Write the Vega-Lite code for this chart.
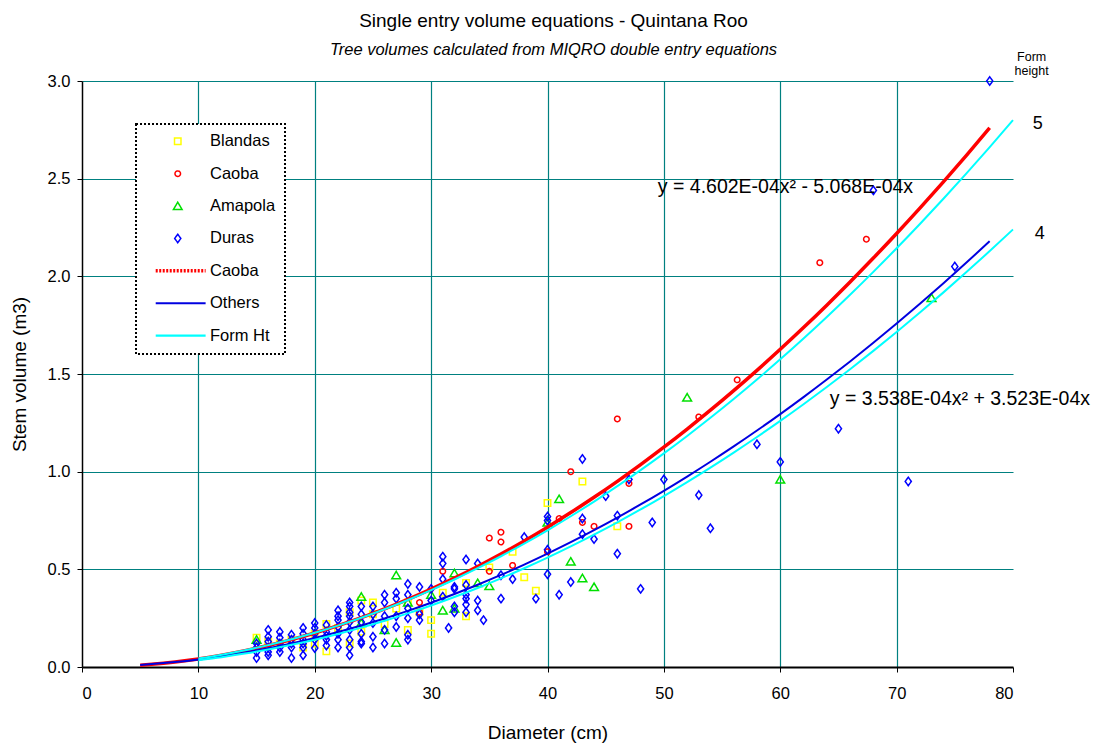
{
  "$schema": "https://vega.github.io/schema/vega-lite/v6.json",
  "width": 931,
  "height": 586,
  "autosize": {"type": "none"},
  "padding": {"left": 82, "top": 81, "right": 92, "bottom": 79},
  "background": "white",
  "config": {
    "font": "Liberation Sans",
    "view": {"stroke": null},
    "axis": {
      "domainColor": "black",
      "domainWidth": 1.5,
      "tickColor": "black",
      "tickSize": 5,
      "labelFontSize": 16.5,
      "labelColor": "black",
      "titleFontSize": 19,
      "titleFontWeight": "normal",
      "titleColor": "black",
      "gridColor": "#008080",
      "gridWidth": 1.2,
      "gridOpacity": 1
    },
    "legend": {
      "labelFontSize": 16.5,
      "labelColor": "black",
      "symbolSize": 42,
      "symbolStrokeWidth": 1.5,
      "symbolOffset": 24.5,
      "labelOffset": 24,
      "rowPadding": 15.4,
      "padding": 9,
      "strokeColor": "black",
      "fillColor": "white",
      "strokeDash": [2, 2],
      "strokeWidth": 2
    }
  },
  "title": {
    "text": "Single entry volume equations - Quintana Roo",
    "subtitle": "Tree volumes calculated from MIQRO double entry equations",
    "fontSize": 19,
    "fontWeight": "normal",
    "color": "black",
    "subtitleFontSize": 16.5,
    "subtitleFontStyle": "italic",
    "subtitleColor": "black",
    "subtitlePadding": 11,
    "anchor": "middle",
    "dx": 6,
    "offset": -8
  },
  "datasets": {
    "trees": [
      {"d": 15, "v": 0.15, "s": "Blandas"}, {"d": 16, "v": 0.13, "s": "Blandas"}, {"d": 17, "v": 0.12, "s": "Blandas"},
      {"d": 18, "v": 0.14, "s": "Blandas"}, {"d": 19, "v": 0.10, "s": "Blandas"}, {"d": 20, "v": 0.17, "s": "Blandas"},
      {"d": 20, "v": 0.12, "s": "Blandas"}, {"d": 21, "v": 0.08, "s": "Blandas"}, {"d": 21, "v": 0.22, "s": "Blandas"},
      {"d": 22, "v": 0.20, "s": "Blandas"}, {"d": 23, "v": 0.12, "s": "Blandas"}, {"d": 23, "v": 0.28, "s": "Blandas"},
      {"d": 24, "v": 0.34, "s": "Blandas"}, {"d": 24, "v": 0.18, "s": "Blandas"}, {"d": 25, "v": 0.33, "s": "Blandas"},
      {"d": 25, "v": 0.27, "s": "Blandas"}, {"d": 26, "v": 0.22, "s": "Blandas"}, {"d": 27, "v": 0.30, "s": "Blandas"},
      {"d": 28, "v": 0.19, "s": "Blandas"}, {"d": 28, "v": 0.33, "s": "Blandas"}, {"d": 29, "v": 0.28, "s": "Blandas"},
      {"d": 30, "v": 0.17, "s": "Blandas"}, {"d": 30, "v": 0.24, "s": "Blandas"}, {"d": 31, "v": 0.38, "s": "Blandas"},
      {"d": 33, "v": 0.26, "s": "Blandas"}, {"d": 33, "v": 0.43, "s": "Blandas"}, {"d": 35, "v": 0.51, "s": "Blandas"},
      {"d": 37, "v": 0.59, "s": "Blandas"}, {"d": 38, "v": 0.46, "s": "Blandas"}, {"d": 39, "v": 0.39, "s": "Blandas"},
      {"d": 40, "v": 0.84, "s": "Blandas"}, {"d": 43, "v": 0.95, "s": "Blandas"}, {"d": 46, "v": 0.72, "s": "Blandas"},

      {"d": 29, "v": 0.33, "s": "Caoba"}, {"d": 29, "v": 0.28, "s": "Caoba"}, {"d": 31, "v": 0.49, "s": "Caoba"},
      {"d": 35, "v": 0.66, "s": "Caoba"}, {"d": 36, "v": 0.69, "s": "Caoba"}, {"d": 36, "v": 0.64, "s": "Caoba"},
      {"d": 35, "v": 0.49, "s": "Caoba"}, {"d": 37, "v": 0.52, "s": "Caoba"}, {"d": 40, "v": 0.59, "s": "Caoba"},
      {"d": 41, "v": 0.76, "s": "Caoba"}, {"d": 42, "v": 1.0, "s": "Caoba"}, {"d": 43, "v": 0.74, "s": "Caoba"},
      {"d": 44, "v": 0.72, "s": "Caoba"}, {"d": 46, "v": 1.27, "s": "Caoba"}, {"d": 47, "v": 0.94, "s": "Caoba"},
      {"d": 47, "v": 0.72, "s": "Caoba"}, {"d": 53, "v": 1.28, "s": "Caoba"}, {"d": 56.3, "v": 1.47, "s": "Caoba"},
      {"d": 63.4, "v": 2.07, "s": "Caoba"}, {"d": 67.4, "v": 2.19, "s": "Caoba"},

      {"d": 15, "v": 0.14, "s": "Amapola"}, {"d": 24, "v": 0.36, "s": "Amapola"}, {"d": 24, "v": 0.225, "s": "Amapola"},
      {"d": 26, "v": 0.19, "s": "Amapola"}, {"d": 27, "v": 0.47, "s": "Amapola"}, {"d": 27, "v": 0.125, "s": "Amapola"},
      {"d": 28, "v": 0.33, "s": "Amapola"}, {"d": 30, "v": 0.37, "s": "Amapola"}, {"d": 31, "v": 0.29, "s": "Amapola"},
      {"d": 32, "v": 0.30, "s": "Amapola"}, {"d": 32, "v": 0.48, "s": "Amapola"}, {"d": 34, "v": 0.43, "s": "Amapola"},
      {"d": 35, "v": 0.415, "s": "Amapola"}, {"d": 40, "v": 0.74, "s": "Amapola"}, {"d": 41, "v": 0.86, "s": "Amapola"},
      {"d": 42, "v": 0.54, "s": "Amapola"}, {"d": 43, "v": 0.455, "s": "Amapola"}, {"d": 44, "v": 0.41, "s": "Amapola"},
      {"d": 52, "v": 1.38, "s": "Amapola"}, {"d": 60, "v": 0.96, "s": "Amapola"}, {"d": 73, "v": 1.89, "s": "Amapola"},

      {"d": 15, "v": 0.12, "s": "Duras"}, {"d": 15, "v": 0.10, "s": "Duras"}, {"d": 15, "v": 0.077, "s": "Duras"}, {"d": 15, "v": 0.046, "s": "Duras"},
      {"d": 16, "v": 0.19, "s": "Duras"}, {"d": 16, "v": 0.155, "s": "Duras"}, {"d": 16, "v": 0.13, "s": "Duras"}, {"d": 16, "v": 0.10, "s": "Duras"}, {"d": 16, "v": 0.077, "s": "Duras"}, {"d": 16, "v": 0.06, "s": "Duras"},
      {"d": 17, "v": 0.18, "s": "Duras"}, {"d": 17, "v": 0.15, "s": "Duras"}, {"d": 17, "v": 0.12, "s": "Duras"}, {"d": 17, "v": 0.10, "s": "Duras"}, {"d": 17, "v": 0.077, "s": "Duras"},
      {"d": 18, "v": 0.165, "s": "Duras"}, {"d": 18, "v": 0.14, "s": "Duras"}, {"d": 18, "v": 0.12, "s": "Duras"}, {"d": 18, "v": 0.10, "s": "Duras"}, {"d": 18, "v": 0.046, "s": "Duras"},
      {"d": 19, "v": 0.20, "s": "Duras"}, {"d": 19, "v": 0.17, "s": "Duras"}, {"d": 19, "v": 0.14, "s": "Duras"}, {"d": 19, "v": 0.12, "s": "Duras"}, {"d": 19, "v": 0.10, "s": "Duras"}, {"d": 19, "v": 0.06, "s": "Duras"},
      {"d": 20, "v": 0.225, "s": "Duras"}, {"d": 20, "v": 0.20, "s": "Duras"}, {"d": 20, "v": 0.17, "s": "Duras"}, {"d": 20, "v": 0.14, "s": "Duras"}, {"d": 20, "v": 0.097, "s": "Duras"},
      {"d": 21, "v": 0.215, "s": "Duras"}, {"d": 21, "v": 0.18, "s": "Duras"}, {"d": 21, "v": 0.16, "s": "Duras"}, {"d": 21, "v": 0.14, "s": "Duras"}, {"d": 21, "v": 0.11, "s": "Duras"},
      {"d": 22, "v": 0.29, "s": "Duras"}, {"d": 22, "v": 0.26, "s": "Duras"}, {"d": 22, "v": 0.24, "s": "Duras"}, {"d": 22, "v": 0.205, "s": "Duras"}, {"d": 22, "v": 0.17, "s": "Duras"}, {"d": 22, "v": 0.14, "s": "Duras"}, {"d": 22, "v": 0.10, "s": "Duras"},
      {"d": 23, "v": 0.33, "s": "Duras"}, {"d": 23, "v": 0.31, "s": "Duras"}, {"d": 23, "v": 0.28, "s": "Duras"}, {"d": 23, "v": 0.26, "s": "Duras"}, {"d": 23, "v": 0.23, "s": "Duras"}, {"d": 23, "v": 0.19, "s": "Duras"}, {"d": 23, "v": 0.14, "s": "Duras"}, {"d": 23, "v": 0.10, "s": "Duras"}, {"d": 23, "v": 0.06, "s": "Duras"},
      {"d": 24, "v": 0.31, "s": "Duras"}, {"d": 24, "v": 0.27, "s": "Duras"}, {"d": 24, "v": 0.23, "s": "Duras"}, {"d": 24, "v": 0.17, "s": "Duras"}, {"d": 24, "v": 0.13, "s": "Duras"}, {"d": 24, "v": 0.12, "s": "Duras"},
      {"d": 25, "v": 0.31, "s": "Duras"}, {"d": 25, "v": 0.27, "s": "Duras"}, {"d": 25, "v": 0.225, "s": "Duras"}, {"d": 25, "v": 0.155, "s": "Duras"}, {"d": 25, "v": 0.10, "s": "Duras"},
      {"d": 26, "v": 0.37, "s": "Duras"}, {"d": 26, "v": 0.33, "s": "Duras"}, {"d": 26, "v": 0.26, "s": "Duras"}, {"d": 26, "v": 0.19, "s": "Duras"}, {"d": 26, "v": 0.12, "s": "Duras"},
      {"d": 27, "v": 0.38, "s": "Duras"}, {"d": 27, "v": 0.35, "s": "Duras"}, {"d": 27, "v": 0.26, "s": "Duras"}, {"d": 27, "v": 0.205, "s": "Duras"},
      {"d": 28, "v": 0.425, "s": "Duras"}, {"d": 28, "v": 0.37, "s": "Duras"}, {"d": 28, "v": 0.30, "s": "Duras"}, {"d": 28, "v": 0.25, "s": "Duras"}, {"d": 28, "v": 0.165, "s": "Duras"}, {"d": 28, "v": 0.14, "s": "Duras"},
      {"d": 29, "v": 0.41, "s": "Duras"}, {"d": 29, "v": 0.27, "s": "Duras"}, {"d": 29, "v": 0.24, "s": "Duras"},
      {"d": 30, "v": 0.40, "s": "Duras"}, {"d": 30, "v": 0.34, "s": "Duras"},
      {"d": 31, "v": 0.565, "s": "Duras"}, {"d": 31, "v": 0.53, "s": "Duras"}, {"d": 31, "v": 0.45, "s": "Duras"}, {"d": 31, "v": 0.36, "s": "Duras"}, {"d": 31.5, "v": 0.20, "s": "Duras"},
      {"d": 32, "v": 0.41, "s": "Duras"}, {"d": 32, "v": 0.40, "s": "Duras"}, {"d": 32, "v": 0.31, "s": "Duras"}, {"d": 32, "v": 0.28, "s": "Duras"},
      {"d": 33, "v": 0.55, "s": "Duras"}, {"d": 33, "v": 0.42, "s": "Duras"}, {"d": 33, "v": 0.37, "s": "Duras"}, {"d": 33, "v": 0.35, "s": "Duras"}, {"d": 33, "v": 0.32, "s": "Duras"}, {"d": 33, "v": 0.28, "s": "Duras"},
      {"d": 34, "v": 0.53, "s": "Duras"}, {"d": 34, "v": 0.34, "s": "Duras"}, {"d": 34, "v": 0.29, "s": "Duras"}, {"d": 34.5, "v": 0.24, "s": "Duras"},
      {"d": 36, "v": 0.47, "s": "Duras"}, {"d": 36, "v": 0.35, "s": "Duras"}, {"d": 37, "v": 0.45, "s": "Duras"}, {"d": 38, "v": 0.665, "s": "Duras"},
      {"d": 39, "v": 0.35, "s": "Duras"}, {"d": 40, "v": 0.77, "s": "Duras"}, {"d": 40, "v": 0.75, "s": "Duras"}, {"d": 40, "v": 0.60, "s": "Duras"},
      {"d": 40, "v": 0.475, "s": "Duras"}, {"d": 41, "v": 0.37, "s": "Duras"}, {"d": 42, "v": 0.435, "s": "Duras"}, {"d": 43, "v": 1.065, "s": "Duras"},
      {"d": 43, "v": 0.76, "s": "Duras"}, {"d": 43, "v": 0.68, "s": "Duras"}, {"d": 44, "v": 0.655, "s": "Duras"}, {"d": 45, "v": 0.875, "s": "Duras"},
      {"d": 46, "v": 0.775, "s": "Duras"}, {"d": 46, "v": 0.58, "s": "Duras"}, {"d": 47, "v": 0.96, "s": "Duras"}, {"d": 48, "v": 0.40, "s": "Duras"},
      {"d": 49, "v": 0.74, "s": "Duras"}, {"d": 50, "v": 0.96, "s": "Duras"}, {"d": 53, "v": 0.88, "s": "Duras"}, {"d": 54, "v": 0.71, "s": "Duras"},
      {"d": 58, "v": 1.14, "s": "Duras"}, {"d": 60, "v": 1.05, "s": "Duras"}, {"d": 65, "v": 1.22, "s": "Duras"}, {"d": 68, "v": 2.44, "s": "Duras"},
      {"d": 71, "v": 0.95, "s": "Duras"}, {"d": 75, "v": 2.05, "s": "Duras"}, {"d": 78, "v": 3.0, "s": "Duras"}
    ],
    "fits": [
      {"d": 5, "v": 0.00897, "s": "Caoba fit", "c": "caoba"}, {"d": 6, "v": 0.01353, "s": "Caoba fit", "c": "caoba"},
      {"d": 8, "v": 0.0254, "s": "Caoba fit", "c": "caoba"}, {"d": 10, "v": 0.04095, "s": "Caoba fit", "c": "caoba"},
      {"d": 12, "v": 0.06019, "s": "Caoba fit", "c": "caoba"}, {"d": 14, "v": 0.0831, "s": "Caoba fit", "c": "caoba"},
      {"d": 16, "v": 0.1097, "s": "Caoba fit", "c": "caoba"}, {"d": 18, "v": 0.13998, "s": "Caoba fit", "c": "caoba"},
      {"d": 20, "v": 0.17394, "s": "Caoba fit", "c": "caoba"}, {"d": 22, "v": 0.21159, "s": "Caoba fit", "c": "caoba"},
      {"d": 24, "v": 0.25291, "s": "Caoba fit", "c": "caoba"}, {"d": 26, "v": 0.29792, "s": "Caoba fit", "c": "caoba"},
      {"d": 28, "v": 0.34661, "s": "Caoba fit", "c": "caoba"}, {"d": 30, "v": 0.39898, "s": "Caoba fit", "c": "caoba"},
      {"d": 32, "v": 0.45503, "s": "Caoba fit", "c": "caoba"}, {"d": 34, "v": 0.51476, "s": "Caoba fit", "c": "caoba"},
      {"d": 36, "v": 0.57817, "s": "Caoba fit", "c": "caoba"}, {"d": 38, "v": 0.64527, "s": "Caoba fit", "c": "caoba"},
      {"d": 40, "v": 0.71605, "s": "Caoba fit", "c": "caoba"}, {"d": 42, "v": 0.79051, "s": "Caoba fit", "c": "caoba"},
      {"d": 44, "v": 0.86865, "s": "Caoba fit", "c": "caoba"}, {"d": 46, "v": 0.95047, "s": "Caoba fit", "c": "caoba"},
      {"d": 48, "v": 1.03597, "s": "Caoba fit", "c": "caoba"}, {"d": 50, "v": 1.12516, "s": "Caoba fit", "c": "caoba"},
      {"d": 52, "v": 1.21803, "s": "Caoba fit", "c": "caoba"}, {"d": 54, "v": 1.31458, "s": "Caoba fit", "c": "caoba"},
      {"d": 56, "v": 1.41481, "s": "Caoba fit", "c": "caoba"}, {"d": 58, "v": 1.51872, "s": "Caoba fit", "c": "caoba"},
      {"d": 60, "v": 1.62631, "s": "Caoba fit", "c": "caoba"}, {"d": 62, "v": 1.73759, "s": "Caoba fit", "c": "caoba"},
      {"d": 64, "v": 1.85254, "s": "Caoba fit", "c": "caoba"}, {"d": 66, "v": 1.97118, "s": "Caoba fit", "c": "caoba"},
      {"d": 68, "v": 2.0935, "s": "Caoba fit", "c": "caoba"}, {"d": 70, "v": 2.2195, "s": "Caoba fit", "c": "caoba"},
      {"d": 72, "v": 2.34919, "s": "Caoba fit", "c": "caoba"}, {"d": 74, "v": 2.48255, "s": "Caoba fit", "c": "caoba"},
      {"d": 76, "v": 2.6196, "s": "Caoba fit", "c": "caoba"}, {"d": 78, "v": 2.76033, "s": "Caoba fit", "c": "caoba"},

      {"d": 5, "v": 0.01061, "s": "Others", "c": "others"}, {"d": 6, "v": 0.01485, "s": "Others", "c": "others"},
      {"d": 8, "v": 0.02546, "s": "Others", "c": "others"}, {"d": 10, "v": 0.0389, "s": "Others", "c": "others"},
      {"d": 12, "v": 0.05518, "s": "Others", "c": "others"}, {"d": 14, "v": 0.07428, "s": "Others", "c": "others"},
      {"d": 16, "v": 0.09621, "s": "Others", "c": "others"}, {"d": 18, "v": 0.12097, "s": "Others", "c": "others"},
      {"d": 20, "v": 0.14857, "s": "Others", "c": "others"}, {"d": 22, "v": 0.17899, "s": "Others", "c": "others"},
      {"d": 24, "v": 0.21224, "s": "Others", "c": "others"}, {"d": 26, "v": 0.24833, "s": "Others", "c": "others"},
      {"d": 28, "v": 0.28724, "s": "Others", "c": "others"}, {"d": 30, "v": 0.32899, "s": "Others", "c": "others"},
      {"d": 32, "v": 0.37357, "s": "Others", "c": "others"}, {"d": 34, "v": 0.42097, "s": "Others", "c": "others"},
      {"d": 36, "v": 0.47121, "s": "Others", "c": "others"}, {"d": 38, "v": 0.52427, "s": "Others", "c": "others"},
      {"d": 40, "v": 0.58017, "s": "Others", "c": "others"}, {"d": 42, "v": 0.6389, "s": "Others", "c": "others"},
      {"d": 44, "v": 0.70046, "s": "Others", "c": "others"}, {"d": 46, "v": 0.76485, "s": "Others", "c": "others"},
      {"d": 48, "v": 0.83207, "s": "Others", "c": "others"}, {"d": 50, "v": 0.90212, "s": "Others", "c": "others"},
      {"d": 52, "v": 0.975, "s": "Others", "c": "others"}, {"d": 54, "v": 1.05071, "s": "Others", "c": "others"},
      {"d": 56, "v": 1.12925, "s": "Others", "c": "others"}, {"d": 58, "v": 1.21062, "s": "Others", "c": "others"},
      {"d": 60, "v": 1.29482, "s": "Others", "c": "others"}, {"d": 62, "v": 1.38185, "s": "Others", "c": "others"},
      {"d": 64, "v": 1.47171, "s": "Others", "c": "others"}, {"d": 66, "v": 1.56441, "s": "Others", "c": "others"},
      {"d": 68, "v": 1.65993, "s": "Others", "c": "others"}, {"d": 70, "v": 1.75828, "s": "Others", "c": "others"},
      {"d": 72, "v": 1.85947, "s": "Others", "c": "others"}, {"d": 74, "v": 1.96348, "s": "Others", "c": "others"},
      {"d": 76, "v": 2.07032, "s": "Others", "c": "others"}, {"d": 78, "v": 2.18, "s": "Others", "c": "others"},

      {"d": 10, "v": 0.04375, "s": "Form Ht", "c": "fh5"}, {"d": 12, "v": 0.063, "s": "Form Ht", "c": "fh5"},
      {"d": 14, "v": 0.08575, "s": "Form Ht", "c": "fh5"}, {"d": 16, "v": 0.112, "s": "Form Ht", "c": "fh5"},
      {"d": 18, "v": 0.14175, "s": "Form Ht", "c": "fh5"}, {"d": 20, "v": 0.175, "s": "Form Ht", "c": "fh5"},
      {"d": 22, "v": 0.21175, "s": "Form Ht", "c": "fh5"}, {"d": 24, "v": 0.252, "s": "Form Ht", "c": "fh5"},
      {"d": 26, "v": 0.29575, "s": "Form Ht", "c": "fh5"}, {"d": 28, "v": 0.343, "s": "Form Ht", "c": "fh5"},
      {"d": 30, "v": 0.39375, "s": "Form Ht", "c": "fh5"}, {"d": 32, "v": 0.448, "s": "Form Ht", "c": "fh5"},
      {"d": 34, "v": 0.50575, "s": "Form Ht", "c": "fh5"}, {"d": 36, "v": 0.567, "s": "Form Ht", "c": "fh5"},
      {"d": 38, "v": 0.63175, "s": "Form Ht", "c": "fh5"}, {"d": 40, "v": 0.7, "s": "Form Ht", "c": "fh5"},
      {"d": 42, "v": 0.77175, "s": "Form Ht", "c": "fh5"}, {"d": 44, "v": 0.847, "s": "Form Ht", "c": "fh5"},
      {"d": 46, "v": 0.92575, "s": "Form Ht", "c": "fh5"}, {"d": 48, "v": 1.008, "s": "Form Ht", "c": "fh5"},
      {"d": 50, "v": 1.09375, "s": "Form Ht", "c": "fh5"}, {"d": 52, "v": 1.183, "s": "Form Ht", "c": "fh5"},
      {"d": 54, "v": 1.27575, "s": "Form Ht", "c": "fh5"}, {"d": 56, "v": 1.372, "s": "Form Ht", "c": "fh5"},
      {"d": 58, "v": 1.47175, "s": "Form Ht", "c": "fh5"}, {"d": 60, "v": 1.575, "s": "Form Ht", "c": "fh5"},
      {"d": 62, "v": 1.68175, "s": "Form Ht", "c": "fh5"}, {"d": 64, "v": 1.792, "s": "Form Ht", "c": "fh5"},
      {"d": 66, "v": 1.90575, "s": "Form Ht", "c": "fh5"}, {"d": 68, "v": 2.023, "s": "Form Ht", "c": "fh5"},
      {"d": 70, "v": 2.14375, "s": "Form Ht", "c": "fh5"}, {"d": 72, "v": 2.268, "s": "Form Ht", "c": "fh5"},
      {"d": 74, "v": 2.39575, "s": "Form Ht", "c": "fh5"}, {"d": 76, "v": 2.527, "s": "Form Ht", "c": "fh5"},
      {"d": 78, "v": 2.66175, "s": "Form Ht", "c": "fh5"}, {"d": 80, "v": 2.8, "s": "Form Ht", "c": "fh5"},

      {"d": 10, "v": 0.035, "s": "Form Ht", "c": "fh4"}, {"d": 12, "v": 0.0504, "s": "Form Ht", "c": "fh4"},
      {"d": 14, "v": 0.0686, "s": "Form Ht", "c": "fh4"}, {"d": 16, "v": 0.0896, "s": "Form Ht", "c": "fh4"},
      {"d": 18, "v": 0.1134, "s": "Form Ht", "c": "fh4"}, {"d": 20, "v": 0.14, "s": "Form Ht", "c": "fh4"},
      {"d": 22, "v": 0.1694, "s": "Form Ht", "c": "fh4"}, {"d": 24, "v": 0.2016, "s": "Form Ht", "c": "fh4"},
      {"d": 26, "v": 0.2366, "s": "Form Ht", "c": "fh4"}, {"d": 28, "v": 0.2744, "s": "Form Ht", "c": "fh4"},
      {"d": 30, "v": 0.315, "s": "Form Ht", "c": "fh4"}, {"d": 32, "v": 0.3584, "s": "Form Ht", "c": "fh4"},
      {"d": 34, "v": 0.4046, "s": "Form Ht", "c": "fh4"}, {"d": 36, "v": 0.4536, "s": "Form Ht", "c": "fh4"},
      {"d": 38, "v": 0.5054, "s": "Form Ht", "c": "fh4"}, {"d": 40, "v": 0.56, "s": "Form Ht", "c": "fh4"},
      {"d": 42, "v": 0.6174, "s": "Form Ht", "c": "fh4"}, {"d": 44, "v": 0.6776, "s": "Form Ht", "c": "fh4"},
      {"d": 46, "v": 0.7406, "s": "Form Ht", "c": "fh4"}, {"d": 48, "v": 0.8064, "s": "Form Ht", "c": "fh4"},
      {"d": 50, "v": 0.875, "s": "Form Ht", "c": "fh4"}, {"d": 52, "v": 0.9464, "s": "Form Ht", "c": "fh4"},
      {"d": 54, "v": 1.0206, "s": "Form Ht", "c": "fh4"}, {"d": 56, "v": 1.0976, "s": "Form Ht", "c": "fh4"},
      {"d": 58, "v": 1.1774, "s": "Form Ht", "c": "fh4"}, {"d": 60, "v": 1.26, "s": "Form Ht", "c": "fh4"},
      {"d": 62, "v": 1.3454, "s": "Form Ht", "c": "fh4"}, {"d": 64, "v": 1.4336, "s": "Form Ht", "c": "fh4"},
      {"d": 66, "v": 1.5246, "s": "Form Ht", "c": "fh4"}, {"d": 68, "v": 1.6184, "s": "Form Ht", "c": "fh4"},
      {"d": 70, "v": 1.715, "s": "Form Ht", "c": "fh4"}, {"d": 72, "v": 1.8144, "s": "Form Ht", "c": "fh4"},
      {"d": 74, "v": 1.9166, "s": "Form Ht", "c": "fh4"}, {"d": 76, "v": 2.0216, "s": "Form Ht", "c": "fh4"},
      {"d": 78, "v": 2.1294, "s": "Form Ht", "c": "fh4"}, {"d": 80, "v": 2.24, "s": "Form Ht", "c": "fh4"}
    ]
  },
  "encoding": {
    "x": {
      "field": "d",
      "type": "quantitative",
      "scale": {"domain": [0, 80], "nice": false},
      "axis": {
        "title": "Diameter (cm)",
        "values": [0, 10, 20, 30, 40, 50, 60, 70, 80],
        "grid": true,
        "gridColor": {"condition": {"test": "datum.value >= 80 || datum.value <= 0", "value": "transparent"}, "value": "#008080"},
        "domainWidth": 2,
        "labelPadding": 13,
        "titlePadding": 22
      }
    },
    "y": {
      "field": "v",
      "type": "quantitative",
      "scale": {"domain": [0, 3], "nice": false},
      "axis": {
        "title": "Stem volume (m3)",
        "values": [0, 0.5, 1, 1.5, 2, 2.5, 3],
        "format": ".1f",
        "grid": true,
        "gridColor": {"condition": {"test": "datum.value <= 0", "value": "transparent"}, "value": "#008080"},
        "labelPadding": 7,
        "titlePadding": 18
      }
    }
  },
  "layer": [
    {
      "data": {"name": "trees"},
      "mark": {"type": "point", "filled": false, "size": 42, "opacity": 1},
      "encoding": {
        "color": {
          "field": "s",
          "type": "nominal",
          "scale": {
            "domain": ["Blandas", "Caoba", "Amapola", "Duras", "Caoba fit", "Others", "Form Ht"],
            "range": ["#FFFF00", "#FF0000", "#00E000", "#0000FF", "#FF0000", "#0000E0", "#00FFFF"]
          },
          "legend": {
            "orient": "none", "legendX": 54, "legendY": 43, "title": null,
            "labelExpr": "datum.value === 'Caoba fit' ? 'Caoba' : datum.value"
          }
        },
        "shape": {
          "field": "s",
          "type": "nominal",
          "scale": {
            "domain": ["Blandas", "Caoba", "Amapola", "Duras", "Caoba fit", "Others", "Form Ht"],
            "range": ["square", "M0.85,0A0.85,0.85 0 1,1 -0.85,0A0.85,0.85 0 1,1 0.85,0Z", "M0,-1.2L1.35,1.1L-1.35,1.1Z", "M0,-1.3L0.95,0L0,1.3L-0.95,0Z", "M-6.8,0H8.6", "M-6.8,0H8.6", "M-6.8,0H8.6"]
          },
          "legend": {
            "orient": "none", "legendX": 54, "legendY": 43, "title": null,
            "labelExpr": "datum.value === 'Caoba fit' ? 'Caoba' : datum.value"
          }
        },
        "strokeWidth": {
          "field": "s",
          "type": "nominal",
          "scale": {
            "type": "ordinal",
            "domain": ["Blandas", "Caoba", "Amapola", "Duras", "Caoba fit", "Others", "Form Ht"],
            "range": [1.5, 1.5, 1.5, 1.5, 3.5, 2.2, 2.2]
          },
          "legend": {
            "orient": "none", "legendX": 54, "legendY": 43, "title": null,
            "labelExpr": "datum.value === 'Caoba fit' ? 'Caoba' : datum.value"
          }
        },
        "strokeDash": {
          "field": "s",
          "type": "nominal",
          "scale": {
            "domain": ["Blandas", "Caoba", "Amapola", "Duras", "Caoba fit", "Others", "Form Ht"],
            "range": [[1, 0], [1, 0], [1, 0], [1, 0], [2, 1.5], [1, 0], [1, 0]]
          },
          "legend": {
            "orient": "none", "legendX": 54, "legendY": 43, "title": null,
            "labelExpr": "datum.value === 'Caoba fit' ? 'Caoba' : datum.value"
          }
        }
      }
    },
    {
      "data": {"name": "fits"},
      "transform": [{"filter": "datum.c === 'caoba'"}],
      "mark": {"type": "line", "strokeWidth": 3.5, "interpolate": "monotone"},
      "encoding": {"color": {"field": "s", "type": "nominal"}}
    },
    {
      "data": {"name": "fits"},
      "transform": [{"filter": "datum.c === 'others'"}],
      "mark": {"type": "line", "strokeWidth": 2, "interpolate": "monotone"},
      "encoding": {"color": {"field": "s", "type": "nominal"}}
    },
    {
      "data": {"name": "fits"},
      "transform": [{"filter": "datum.c === 'fh5' || datum.c === 'fh4'"}],
      "mark": {"type": "line", "strokeWidth": 2, "interpolate": "monotone"},
      "encoding": {"color": {"field": "s", "type": "nominal"}, "detail": {"field": "c"}}
    },
    {
      "data": {"values": [
        {"d": 49.48, "v": 2.458, "t": "y = 4.602E-04x² - 5.068E-04x"},
        {"d": 64.26, "v": 1.372, "t": "y = 3.538E-04x² + 3.523E-04x"}
      ]},
      "mark": {"type": "text", "align": "left", "baseline": "middle", "fontSize": 19.5, "color": "black"},
      "encoding": {"text": {"field": "t"}}
    },
    {
      "data": {"values": [
        {"d": 82.13, "v": 2.78, "t": "5"},
        {"d": 82.3, "v": 2.217, "t": "4"}
      ]},
      "mark": {"type": "text", "align": "center", "baseline": "middle", "fontSize": 18, "color": "black"},
      "encoding": {"text": {"field": "t"}}
    },
    {
      "data": {"values": [
        {"d": 81.6, "v": 3.123, "t": "Form"},
        {"d": 81.6, "v": 3.052, "t": "height"}
      ]},
      "mark": {"type": "text", "align": "center", "baseline": "middle", "fontSize": 12.5, "color": "black"},
      "encoding": {"text": {"field": "t"}}
    }
  ]
}
